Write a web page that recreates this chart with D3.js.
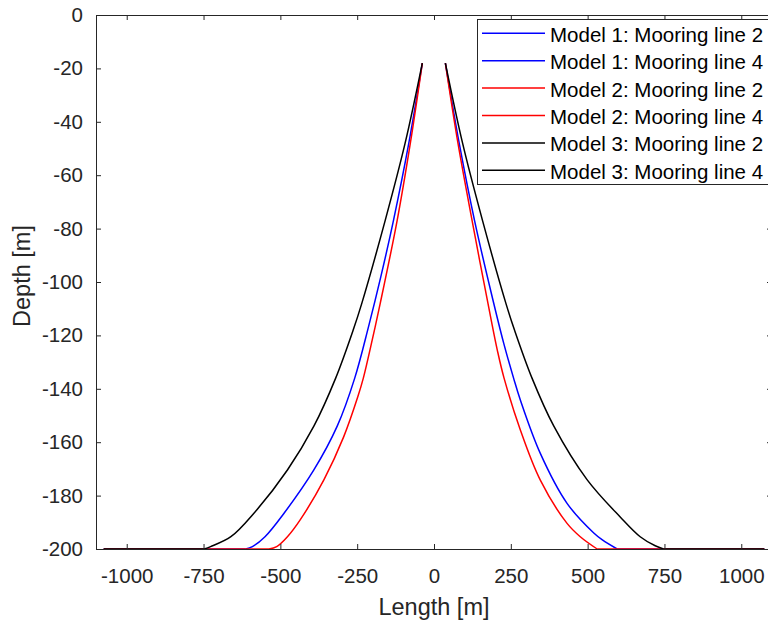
<!DOCTYPE html>
<html>
<head>
  <meta charset="utf-8">
  <script src="https://cdn.jsdelivr.net/npm/d3@7"></script>
  <style type="text/css">
    body { margin: 0; background: #fff; }
    svg { display: block; font-family: "Liberation Sans", Arial, sans-serif; }
    .axis text { font-size: 20.5px; fill: #262626; }
    .axis path, .axis line { stroke: #262626; }
  </style>
</head>
<body>
<svg id="chart" width="768" height="623"></svg>

<script type="text/javascript">
// mooring line profiles, [length m, depth m]
const m1Line2 = [[-1075,-200],[-613,-200],[-591,-199.1],[-550,-195.4],[-488,-186.6],[-391,-170.4],[-315,-154],[-258,-136],[-213,-116.7],[-173,-98],[-132,-77],[-82,-48],[-38,-18]];
const m1Line4 = [[37,-18],[82,-48],[132,-77],[184,-103],[227,-123],[259,-136],[281,-144.2],[346,-164.2],[433,-182.9],[520,-194],[548,-196.6],[596,-200],[1075,-200]];
const m2Line2 = [[-1075,-200],[-537,-200],[-512,-199.1],[-477,-195.4],[-435,-189],[-358,-174],[-294,-158],[-248,-143],[-230,-136],[-201,-121.7],[-175,-108],[-120,-77],[-77,-48],[-38,-18]];
const m2Line4 = [[37,-18],[78,-48],[124,-77],[184,-113],[206,-125.5],[228,-136],[281,-155.4],[346,-174.2],[433,-190.4],[476,-195.4],[531,-200],[1075,-200]];
const m3Line2 = [[-1075,-200],[-748,-200],[-727,-199.1],[-661,-195.4],[-586,-186.6],[-477,-170.4],[-391,-154],[-320,-136],[-263,-118],[-235,-108],[-159,-77],[-94,-48],[-38,-18]];
const m3Line4 = [[37,-18],[93,-48],[158,-77],[234,-108],[262,-118],[319,-136],[390,-154],[498,-174],[606,-188],[671,-195.4],[720,-198.8],[747,-200],[1075,-200]];

const seriesNames = ["Model 1: Mooring line 2","Model 1: Mooring line 4","Model 2: Mooring line 2","Model 2: Mooring line 4","Model 3: Mooring line 2","Model 3: Mooring line 4"];
const seriesColors = ["#0000ff","#0000ff","#ff0000","#ff0000","#000000","#000000"];
const seriesData = [m1Line2, m1Line4, m2Line2, m2Line4, m3Line2, m3Line4];

const xTicks = [-1000,-750,-500,-250,0,250,500,750,1000];
const yTicks = [0,-20,-40,-60,-80,-100,-120,-140,-160,-180,-200];

var svg = d3.select('#chart');
var padL = 96, padR = 772, padT = 15, padB = 549;
var seabed = -200;

var x = d3.scaleLinear().domain([-1100, 1100]).range([padL, padR]);
var y = d3.scaleLinear().domain([-200, 0]).range([padB, padT]);

// hanging part smooth, part lying on the seabed straight
var hangLine = d3.line()
  .x(d => x(d[0]))
  .y(d => y(d[1]))
  .curve(d3.curveCatmullRom.alpha(0.5));
var flatLine = d3.line()
  .x(d => x(d[0]))
  .y(d => y(d[1]));

function splitLine(pts) {
  // sort from fairlead down to the seabed
  var p = pts.slice().sort((a, b) => b[1] - a[1] || Math.abs(a[0]) - Math.abs(b[0]));
  var k = p.findIndex(q => q[1] <= seabed);
  return { hang: p.slice(0, k + 1), flat: p.slice(k) };
}

var g = svg.append('g').selectAll('g').data(seriesData)
  .enter()
  .append('g')
  .attr('fill', 'none')
  .attr('stroke', (d, i) => seriesColors[i])
  .attr('stroke-width', 1.5);
g.append('path').attr('d', d => flatLine(splitLine(d).flat));
g.append('path').attr('d', d => hangLine(splitLine(d).hang));

// axes, matlab style box with inward ticks
var fmt = d => String(d);
svg.append('g').attr('class', 'axis')
  .attr('transform', `translate(0,${padB})`)
  .call(d3.axisBottom(x).tickValues(xTicks).tickSizeInner(-5).tickSizeOuter(0).tickPadding(19).tickFormat(fmt));
svg.append('g').attr('class', 'axis')
  .attr('transform', `translate(0,${padT})`)
  .call(d3.axisTop(x).tickValues(xTicks).tickSizeInner(-5).tickSizeOuter(0).tickFormat(''));
svg.append('g').attr('class', 'axis')
  .attr('transform', `translate(${padL},0)`)
  .call(d3.axisLeft(y).tickValues(yTicks).tickSizeInner(-5).tickSizeOuter(0).tickPadding(13).tickFormat(fmt));
svg.append('g').attr('class', 'axis')
  .attr('transform', `translate(${padR},0)`)
  .call(d3.axisRight(y).tickValues(yTicks).tickSizeInner(-5).tickSizeOuter(0).tickFormat(''));

svg.selectAll('.axis').attr('font-family', null).attr('font-size', null);

// axis titles
svg.append('text')
  .attr('x', (padL + padR) / 2).attr('y', 615)
  .attr('text-anchor', 'middle')
  .attr('font-size', 23.5).attr('fill', '#262626')
  .text('Length [m]');
svg.append('text')
  .attr('transform', `translate(30,276) rotate(-90)`)
  .attr('text-anchor', 'middle')
  .attr('font-size', 23.5).attr('fill', '#262626')
  .text('Depth [m]');

// legend
var legend = svg.append('g');
legend.append('rect')
  .attr('x', 477.5).attr('y', 19.5)
  .attr('width', 300).attr('height', 165)
  .attr('fill', '#fff').attr('stroke', '#262626').attr('stroke-width', 1);

var rows = legend.selectAll('g.row').data(seriesNames)
  .enter()
  .append('g')
  .attr('class', 'row')
  .attr('transform', (d, i) => `translate(0,${33.3 + i * 27.4})`);
rows.append('line')
  .attr('x1', 482).attr('x2', 545)
  .attr('stroke', (d, i) => seriesColors[i])
  .attr('stroke-width', 1.5);
rows.append('text')
  .attr('x', 550).attr('y', 8.5)
  .attr('font-size', 20.5).attr('fill', '#000')
  .text(d => d);
</script>
</body>
</html>
